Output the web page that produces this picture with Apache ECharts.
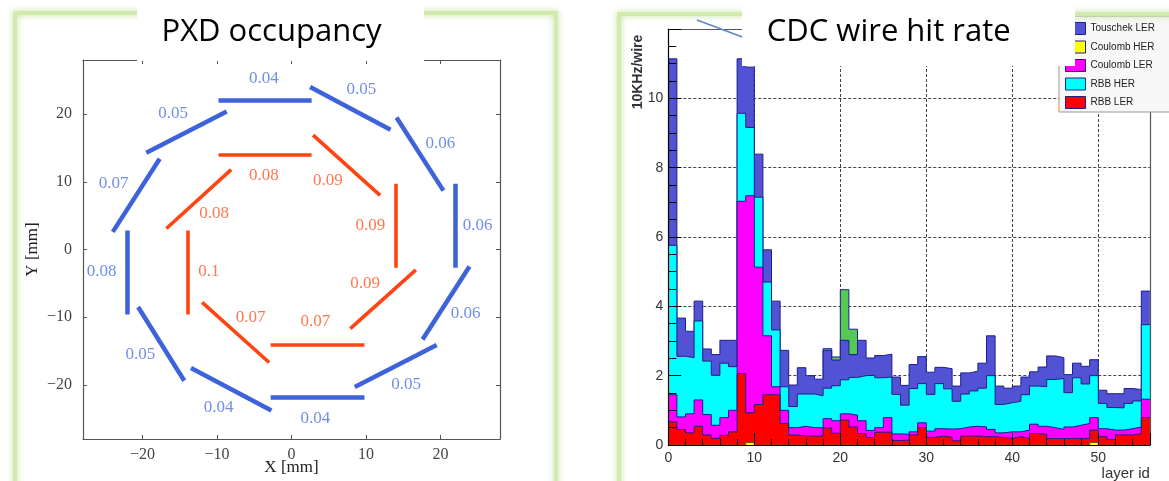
<!DOCTYPE html>
<html><head><meta charset="utf-8">
<script src="https://cdn.jsdelivr.net/npm/echarts@6/dist/echarts.min.js"></script>
<style>html,body{margin:0;padding:0;background:#fff;}#c{width:1169px;height:481px;}</style>
</head><body><div id="c"></div>
<script>
// ---------- PXD occupancy (left) ----------
const pxdTicks = [-20, -10, 0, 10, 20];
// outer layer ladders: [x1, y1, x2, y2] in mm
const outerSegments = [
  [-9.8, 22.0, 2.7, 22.0],
  [2.5, 24.0, 13.3, 17.7],
  [14.1, 19.5, 20.4, 8.7],
  [22.0, 9.7, 22.0, -2.7],
  [23.9, -2.5, 17.6, -13.3],
  [19.5, -14.1, 8.5, -20.3],
  [9.8, -21.9, -2.8, -21.9],
  [-2.7, -23.8, -13.5, -17.5],
  [-14.4, -19.4, -20.6, -8.5],
  [-22.1, -9.6, -22.1, 2.8],
  [-24.0, 2.6, -17.7, 13.4],
  [-19.5, 14.3, -8.7, 20.4]
];
const outerOccupancy = [0.04, 0.05, 0.06, 0.06, 0.06, 0.05, 0.04, 0.04, 0.05, 0.08, 0.07, 0.05];
const outerLabelPos = [
  [-3.7, 25.2], [9.4, 23.6], [20.0, 15.7], [25.0, 3.6], [23.4, -9.5], [15.4, -20.0],
  [3.2, -25.0], [-9.8, -23.4], [-20.3, -15.5], [-25.5, -3.3], [-23.9, 9.7], [-15.9, 20.1]
];
// inner layer ladders
const innerSegments = [
  [-9.8, 14.0, 2.7, 14.0],
  [2.9, 16.9, 11.9, 8.0],
  [14.0, 9.7, 14.0, -2.7],
  [16.7, -3.0, 7.9, -11.7],
  [9.8, -14.0, -2.8, -14.0],
  [-3.0, -16.7, -12.0, -7.8],
  [-14.0, -9.6, -14.0, 2.8],
  [-16.8, 3.1, -8.1, 11.8]
];
const innerOccupancy = [0.08, 0.09, 0.09, 0.09, 0.07, 0.07, 0.1, 0.08];
const innerLabelPos = [
  [-3.7, 10.9], [4.9, 10.2], [10.6, 3.6], [9.9, -5.0], [3.2, -10.7], [-5.5, -10.0], [-11.1, -3.3], [-10.4, 5.3]
];

// ---------- CDC wire hit rate (right) ----------
const layerIds = Array.from({length: 56}, (_, i) => i);
const cdcTicks = [0, 10, 20, 30, 40, 50];
// cumulative stack levels (10 kHz / wire), drawn as in ROOT THStack
const rbbLerTop = [0.67,0.45,0.35,0.54,0.29,0.19,0.28,0.38,2.06,0.93,1.17,1.45,1.45,0.62,0.29,0.26,0.26,0.26,0.49,0.34,0.72,0.52,0.33,0.22,0.37,0.37,0.13,0.14,0.29,0.5,0.22,0.26,0.22,0.12,0.26,0.26,0.24,0.24,0.22,0.19,0.24,0.19,0.33,0.31,0.19,0.19,0.19,0.19,0.19,0.43,0.24,0.16,0.29,0.29,0.33,0.79];
const coulombLerTop = [1.45,0.81,0.9,1.3,0.88,0.57,0.79,1.0,7.03,7.19,5.13,3.15,1.68,1.0,0.5,0.54,0.5,0.5,0.76,0.7,0.9,0.86,0.7,0.42,0.5,0.79,0.32,0.31,0.38,0.64,0.4,0.47,0.46,0.47,0.52,0.54,0.52,0.45,0.35,0.38,0.38,0.43,0.6,0.54,0.5,0.45,0.52,0.57,0.62,0.79,0.47,0.43,0.43,0.47,0.52,1.32];
const rbbHerTop = [5.76,2.56,2.52,3.58,2.42,2.01,2.36,2.26,9.57,9.16,7.15,4.70,3.32,1.68,1.11,1.47,1.47,1.42,1.64,1.71,1.88,1.95,2.0,2.01,1.94,1.96,1.46,1.15,1.63,1.77,1.46,1.77,1.62,1.26,1.47,1.56,1.64,2.0,1.17,1.22,1.26,1.45,1.7,1.68,1.89,1.92,1.51,1.94,1.76,2.0,1.2,1.08,1.07,1.2,1.27,3.47];
const touschekLerTop = [11.14,3.66,3.28,4.15,2.77,2.61,3.02,3.02,11.14,10.9,8.39,5.63,4.15,2.73,1.73,2.23,2.0,1.9,2.73,2.45,3.02,2.61,3.02,2.51,2.58,2.62,1.96,1.72,2.32,2.55,2.1,2.24,2.2,1.7,2.08,2.13,2.36,3.15,1.7,1.64,1.7,1.96,2.11,2.25,2.57,2.52,2.03,2.36,2.27,2.46,1.58,1.48,1.48,1.63,1.6,4.44];
// overlaid histograms, only where visible
const touschekHerLayers = [18, 19, 20, 21];
const touschekHerValues = [2.78, 2.54, 4.48, 3.34];
const coulombHerLayers = [9, 49];
const coulombHerValues = [0.07, 0.07];

function sparse(layers, values) {
  const out = layerIds.map(() => 0);
  layers.forEach((l, i) => { out[l] = values[i]; });
  return out;
}
function stepData(vals) {
  const d = vals.map((v, i) => [layerIds[i], v]);
  d.push([layerIds.length, vals[vals.length - 1]]);
  return d;
}

const SERIF = 'Liberation Serif';
const SANS = 'Liberation Sans';
const NAVY = '#1e1e8c';
const COL = {tl: '#5252d4', ch: '#ffff00', cl: '#ff00ff', rh: '#00ffff', rl: '#ff0000', th: '#55c855'};

function hist(name, vals, fill, z, lineColor) {
  return {
    name, type: 'line', xAxisIndex: 2, yAxisIndex: 2, data: stepData(vals), step: 'end',
    symbol: 'none', showSymbol: false, silent: true, z,
    lineStyle: {color: lineColor || NAVY, width: 1},
    itemStyle: {color: fill},
    areaStyle: {color: fill, opacity: 1, origin: 'start'},
    emphasis: {disabled: true}
  };
}

const minus = v => (v < 0 ? '\u2212' + Math.abs(v) : String(v));
const pxdLine = {onZero: false, lineStyle: {color: '#555', width: 1.2}};
const pxdTick = {show: true, inside: true, length: 4, customValues: pxdTicks, lineStyle: {color: '#555'}};

const option = {
  animation: false,
  grid: [
    {left: 83, top: 60, width: 417, height: 384},
    {left: 668.3, top: 29, width: 481.6, height: 418.7}
  ],
  xAxis: [
    {type: 'value', gridIndex: 0, min: -28, max: 28, position: 'bottom', axisLine: pxdLine, axisTick: pxdTick,
     splitLine: {show: false},
     axisLabel: {customValues: pxdTicks, formatter: minus, fontFamily: SERIF, fontSize: 16, color: '#444', margin: 8},
     name: 'X [mm]', nameLocation: 'middle', nameGap: 20, nameMoveOverlap: false,
     nameTextStyle: {fontFamily: SERIF, fontSize: 17, color: '#222'}},
    {type: 'value', gridIndex: 0, min: -28, max: 28, position: 'top', axisLine: pxdLine, axisTick: pxdTick,
     splitLine: {show: false}, axisLabel: {show: false, customValues: pxdTicks}},
    {type: 'value', gridIndex: 1, min: 0, max: 56, interval: 10, position: 'bottom', z: 10,
     axisLine: {onZero: false, lineStyle: {color: '#000', width: 1.2}},
     axisTick: {show: true, inside: true, length: 12, lineStyle: {color: '#000'}},
     minorTick: {show: true, splitNumber: 5, length: 6, lineStyle: {color: '#000'}},
     splitLine: {show: false},
     axisLabel: {fontFamily: SANS, fontSize: 14, color: '#333', margin: 6, formatter: v => (cdcTicks.indexOf(v) >= 0 ? String(v) : '')},
     name: 'layer id', nameLocation: 'end', nameGap: 0, nameMoveOverlap: false,
     nameTextStyle: {fontFamily: SANS, fontSize: 15, color: '#333', align: 'right', verticalAlign: 'top', padding: [21, 0, 0, 0]}},
    {type: 'value', gridIndex: 1, min: 0, max: 56, interval: 10, position: 'bottom', z: 0,
     axisLine: {show: false, onZero: false}, axisTick: {show: false}, axisLabel: {show: false},
     splitLine: {show: true, lineStyle: {type: [3, 2], color: '#444', width: 1}}},
    {type: 'value', gridIndex: 1, min: 0, max: 56, position: 'top', z: 10,
     axisLine: {onZero: false, lineStyle: {color: '#555', width: 1.2}}, axisTick: {show: false}, axisLabel: {show: false},
     splitLine: {show: false}}
  ],
  yAxis: [
    {type: 'value', gridIndex: 0, min: -28, max: 28, position: 'left', axisLine: pxdLine, axisTick: pxdTick,
     splitLine: {show: false},
     axisLabel: {customValues: pxdTicks, formatter: minus, fontFamily: SERIF, fontSize: 16, color: '#444', margin: 11},
     name: 'Y [mm]', nameLocation: 'middle', nameGap: 42, nameMoveOverlap: false,
     nameTextStyle: {fontFamily: SERIF, fontSize: 17, color: '#222'}},
    {type: 'value', gridIndex: 0, min: -28, max: 28, position: 'right', axisLine: pxdLine, axisTick: pxdTick,
     splitLine: {show: false}, axisLabel: {show: false, customValues: pxdTicks}},
    {type: 'value', gridIndex: 1, min: 0, max: 12, interval: 2, position: 'left', z: 10,
     axisLine: {onZero: false, lineStyle: {color: '#000', width: 1.2}},
     axisTick: {show: true, inside: true, length: 13, lineStyle: {color: '#000'}},
     minorTick: {show: true, splitNumber: 4, length: 8, lineStyle: {color: '#000'}},
     splitLine: {show: false},
     axisLabel: {fontFamily: SANS, fontSize: 14, color: '#333', margin: 5, formatter: v => (v >= 12 ? '' : String(v))}},
    {type: 'value', gridIndex: 1, min: 0, max: 12, interval: 2, position: 'left', z: 0,
     axisLine: {show: false, onZero: false}, axisTick: {show: false}, axisLabel: {show: false},
     splitLine: {show: true, lineStyle: {type: [3, 2], color: '#444', width: 1}}},
    {type: 'value', gridIndex: 1, min: 0, max: 12, position: 'right', z: 10,
     axisLine: {onZero: false, lineStyle: {color: '#555', width: 1.2}}, axisTick: {show: false}, axisLabel: {show: false},
     splitLine: {show: false}}
  ],
  legend: {
    orient: 'vertical', left: 1059, top: 16, padding: [6, 40, 3, 6], itemWidth: 20, itemHeight: 12, itemGap: 5.5,
    icon: 'rect', backgroundColor: '#f7f7f7', borderColor: '#999', borderWidth: 1, selectedMode: false, z: 50,
    textStyle: {fontFamily: SANS, fontSize: 10, color: '#222'},
    data: [
      {name: 'Touschek LER', itemStyle: {color: COL.tl, borderColor: NAVY, borderWidth: 1}},
      {name: 'Coulomb HER', itemStyle: {color: COL.ch, borderColor: NAVY, borderWidth: 1}},
      {name: 'Coulomb LER', itemStyle: {color: COL.cl, borderColor: NAVY, borderWidth: 1}},
      {name: 'RBB HER', itemStyle: {color: COL.rh, borderColor: NAVY, borderWidth: 1}},
      {name: 'RBB LER', itemStyle: {color: COL.rl, borderColor: NAVY, borderWidth: 1}}
    ]
  },
  series: [
    {type: 'lines', coordinateSystem: 'cartesian2d', xAxisIndex: 0, yAxisIndex: 0, silent: true, z: 3,
     lineStyle: {color: '#3d62dc', width: 4.5, opacity: 1, cap: 'butt'},
     data: outerSegments.map(s => ({coords: [[s[0], s[1]], [s[2], s[3]]]}))},
    {type: 'lines', coordinateSystem: 'cartesian2d', xAxisIndex: 0, yAxisIndex: 0, silent: true, z: 3,
     lineStyle: {color: '#ff4411', width: 3.6, opacity: 1, cap: 'butt'},
     data: innerSegments.map(s => ({coords: [[s[0], s[1]], [s[2], s[3]]]}))},
    {type: 'scatter', xAxisIndex: 0, yAxisIndex: 0, silent: true, z: 4, symbolSize: 1,
     itemStyle: {color: 'rgba(0,0,0,0)'},
     label: {show: true, position: 'inside', formatter: p => String(p.value[2]), fontFamily: SERIF, fontSize: 17, color: '#4f72e3'},
     data: outerLabelPos.map((p, i) => [p[0], p[1], outerOccupancy[i]])},
    {type: 'scatter', xAxisIndex: 0, yAxisIndex: 0, silent: true, z: 4, symbolSize: 1,
     itemStyle: {color: 'rgba(0,0,0,0)'},
     label: {show: true, position: 'inside', formatter: p => String(p.value[2]), fontFamily: SERIF, fontSize: 17, color: '#ff5522'},
     data: innerLabelPos.map((p, i) => [p[0], p[1], innerOccupancy[i]])},
    hist('Touschek HER', sparse(touschekHerLayers, touschekHerValues), COL.th, 2),
    hist('Touschek LER', touschekLerTop, COL.tl, 3),
    hist('RBB HER', rbbHerTop, COL.rh, 4),
    hist('Coulomb LER', coulombLerTop, COL.cl, 5),
    hist('RBB LER', rbbLerTop, COL.rl, 6),
    hist('Coulomb HER', sparse(coulombHerLayers, coulombHerValues), COL.ch, 7, '#6b6000')
  ],
  graphic: [
    {type: 'rect', silent: true, z: 90, shape: {x: 15, y: 13, width: 541, height: 500},
     style: {fill: null, stroke: '#d3eaae', lineWidth: 4, shadowBlur: 6, shadowColor: 'rgba(185,222,135,0.9)'}},
    {type: 'rect', silent: true, z: 90, shape: {x: 619, y: 14, width: 620, height: 500},
     style: {fill: null, stroke: '#d3eaae', lineWidth: 4, shadowBlur: 6, shadowColor: 'rgba(185,222,135,0.9)'}},
    {type: 'line', silent: true, z: 95, shape: {x1: 697, y1: 20, x2: 745, y2: 38},
     style: {stroke: '#5a88c8', lineWidth: 1.5}},
    {type: 'rect', silent: true, z: 100, shape: {x: 137, y: 0, width: 287, height: 61}, style: {fill: '#fff'}},
    {type: 'rect', silent: true, z: 100, shape: {x: 742, y: 0, width: 333, height: 66}, style: {fill: '#fff'}},
    {type: 'text', silent: true, z: 101, x: 271.5, y: 32,
     style: {text: 'PXD occupancy', align: 'center', verticalAlign: 'middle', font: '31px "Open Sans"', fill: '#000'}},
    {type: 'text', silent: true, z: 101, x: 888.7, y: 32,
     style: {text: 'CDC wire hit rate', align: 'center', verticalAlign: 'middle', font: '31px "Open Sans"', fill: '#000'}},
    {type: 'text', silent: true, z: 101, x: 638, y: 72, rotation: Math.PI / 2,
     style: {text: '10KHz/wire', align: 'center', verticalAlign: 'middle', font: 'bold 14px "Liberation Sans"', fill: '#333'}}
  ]
};
const chart = echarts.init(document.getElementById('c'), null, {renderer: 'canvas'});
chart.setOption(option);
</script></body></html>
